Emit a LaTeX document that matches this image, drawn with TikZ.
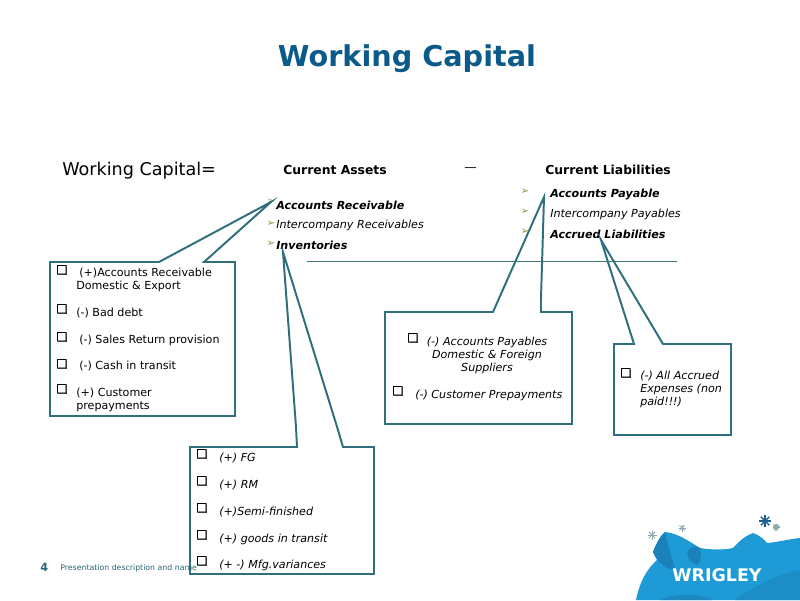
\documentclass[tikz,border=0pt]{standalone}
\usepackage{fontspec}
\setmainfont{DejaVu Sans}
\newfontfamily\boxfont[FakeBold=1.5]{DejaVu Sans}
\usetikzlibrary{positioning}
\definecolor{titleblue}{HTML}{0B5A8A}
\definecolor{boxteal}{HTML}{2F6F7E}
\definecolor{footteal}{HTML}{2A6478}
\definecolor{tickolive}{HTML}{8F9A45}
\definecolor{logoblue}{HTML}{1E9BD7}
\definecolor{logodark}{HTML}{1A78B0}
\definecolor{sparkdark}{HTML}{1F5F8F}
\definecolor{sparkgrey}{HTML}{8FA8B0}
\newcommand{\sparkle}[5]{\foreach \ang in {0,45,...,315} \draw [#3, line width=#4] (#1,#2) -- ++(\ang:#5);}
\begin{document}
\begin{tikzpicture}[x=0.025cm, y=0.025cm]
    \tikzstyle{heading} = [anchor=west, inner sep=0pt, font=\fontsize{8.8}{10}\selectfont\bfseries]
    \tikzstyle{item} = [anchor=north west, inner sep=0pt, align=left, yshift=-1.5*0.025cm, font=\fontsize{7.9}{9.4}\selectfont]
    \tikzstyle{slant} = [item, font=\fontsize{7.9}{9.4}\selectfont\itshape]
    \tikzstyle{topitem} = [anchor=west, inner sep=0pt, font=\fontsize{7.9}{9}\selectfont\itshape]
    \tikzstyle{topbold} = [topitem, font=\fontsize{7.9}{9}\selectfont\itshape\bfseries]
    \tikzstyle{tick} = [inner sep=0pt, text=tickolive, font=\fontsize{7.5}{8}\selectfont]
    \tikzstyle{square} = [inner sep=0pt, font=\fontsize{8.6}{9}\selectfont\boxfont]
    \tikzstyle{callout} = [draw=boxteal, line width=1.4pt, line join=miter]

    \path [use as bounding box] (0,0) rectangle (800,600);

    \node (title) [inner sep=0pt, text=titleblue, font=\fontsize{20.4}{24}\selectfont\bfseries] at (407,541) {Working Capital};

    \node (wc) [heading, font=\fontsize{12.5}{14}\selectfont] at (62,429) {Working Capital=};
    \node (assets) [heading] at (283,430) {Current Assets};
    \node (minus) [heading, font=\fontsize{8.8}{10}\selectfont] at (464,430) {---};
    \node (liab) [heading] at (545,430) {Current Liabilities};

    % left list
    \node (ar) [topbold] at (276,395) {Accounts Receivable};
    \node (ic) [topitem] at (276,375) {Intercompany Receivables};
    \node (inv) [topbold] at (276,355) {Inventories};
    \node (ar tick) [tick] at (271,398) {➢};
    \node (ic tick) [tick] at (271,376) {➢};
    \node (inv tick) [tick] at (271,356) {➢};

    % right list
    \node (ap) [topbold] at (550,406) {Accounts Payable};
    \node (ip) [topitem] at (550,386) {Intercompany Payables};
    \node (al) [topbold] at (550,366) {Accrued Liabilities};
    \node (ap tick) [tick] at (525,408) {➢};
    \node (ip tick) [tick] at (525,388) {➢};
    \node (al tick) [tick] at (525,368) {➢};

    \draw [boxteal!70!gray, line width=0.5pt] (307,339) -- (677,339);

    % callouts
    \draw [callout] (50,338) -- (159,338) -- (271,398) -- (204,338) -- (235,338) -- (235,184) -- (50,184) -- cycle;
    \draw [callout] (190,153) -- (297,153) -- (296,173) -- (283,348) -- (338,170) -- (343,153) -- (374,153) -- (374,26) -- (190,26) -- cycle;
    \draw [callout] (385,288) -- (493,288) -- (544,403) -- (541,302) -- (541,288) -- (572,288) -- (572,176) -- (385,176) -- cycle;
    \draw [callout] (614,256) -- (634,256) -- (601,360) -- (663,256) -- (731,256) -- (731,165) -- (614,165) -- cycle;

    % receivables box
    \node (b1) [square] at (62,330) {❑};
    \node (t1) [item] at (79,334) {(+)Accounts Receivable};
    \node (t1b) [item] at (76,321) {Domestic \& Export};
    \node (b2) [square] at (62,291) {❑};
    \node (t2) [item] at (76,294) {(-) Bad debt};
    \node (b3) [square] at (62,263) {❑};
    \node (t3) [item] at (79,267) {(-) Sales Return provision};
    \node (b4) [square] at (62,236) {❑};
    \node (t4) [item] at (79,241) {(-) Cash in transit};
    \node (b5) [square] at (62,211) {❑};
    \node (t5) [item] at (76,214) {(+) Customer\\prepayments};

    % inventories box
    \foreach \name/\ypos/\txt in {fg/146/(+) FG, rm/119/(+) RM, sf/92/(+)Semi-finished, gt/65/(+) goods in transit, mv/39/(+ -) Mfg.variances} {
        \node (\name b) [square] at (202,\ypos) {❑};
        \node (\name) [slant] at (219,\ypos+3) {\txt};
    }

    % payables box
    \node (b6) [square] at (413,262) {❑};
    \node (t6) [slant, anchor=north, align=center] at (487,265) {(-) Accounts Payables\\Domestic \& Foreign\\Suppliers};
    \node (b7) [square] at (398,209) {❑};
    \node (t7) [slant] at (415,212) {(-) Customer Prepayments};

    % accrued box
    \node (b8) [square] at (626,227) {❑};
    \node (t8) [slant] at (640,231) {(-) All Accrued\\Expenses (non\\paid!!!)};

    % footer
    \node (pagenum) [anchor=west, inner sep=0pt, text=footteal, font=\fontsize{8}{9}\selectfont\bfseries] at (40,33) {4};
    \node (footer) [anchor=west, inner sep=0pt, text=footteal, font=\fontsize{5.55}{6}\selectfont] at (60,32) {Presentation description and name};

    % logo
    \fill [logoblue] (636,0) .. controls (640,20) and (648,32) .. (657,40) -- (653,48) .. controls (657,58) and (661,65) .. (665,68) .. controls (678,67) and (690,58) .. (700,52) .. controls (712,50) and (724,50) .. (733,52) .. controls (740,60) and (747,65) .. (753,67) .. controls (759,65) and (764,61) .. (767,57) .. controls (778,58) and (790,61) .. (800,62) -- (800,0) -- cycle;
    \fill [logodark!75!logoblue] (653,48) .. controls (658,36) and (668,30) .. (676,30) .. controls (671,42) and (668,56) .. (665,68) .. controls (661,65) and (657,58) .. (653,48) -- cycle;
    \fill [logodark!75!logoblue] (687,48) .. controls (688,41) and (692,36) .. (698,35) .. controls (701,41) and (702,47) .. (700,52) .. controls (695,55) and (690,53) .. (687,48) -- cycle;
    \fill [logodark!55!logoblue] (660,0) .. controls (675,7) and (700,7) .. (712,0) -- cycle;
    \fill [logodark!40!logoblue] (735,0) .. controls (760,18) and (785,28) .. (800,30) -- (800,0) -- cycle;
    \node (logotext) [inner sep=0pt, text=white, font=\fontsize{12.4}{14}\selectfont\bfseries] at (717,25) {WRIGLEY};
    \sparkle{765}{79}{sparkdark}{1pt}{6}
    \sparkle{776}{73}{sparkgrey}{0.8pt}{3.5}
    \sparkle{682}{72}{sparkgrey}{0.6pt}{3.5}
    \sparkle{652}{65}{sparkgrey}{0.7pt}{4.5}
\end{tikzpicture}
\end{document}
